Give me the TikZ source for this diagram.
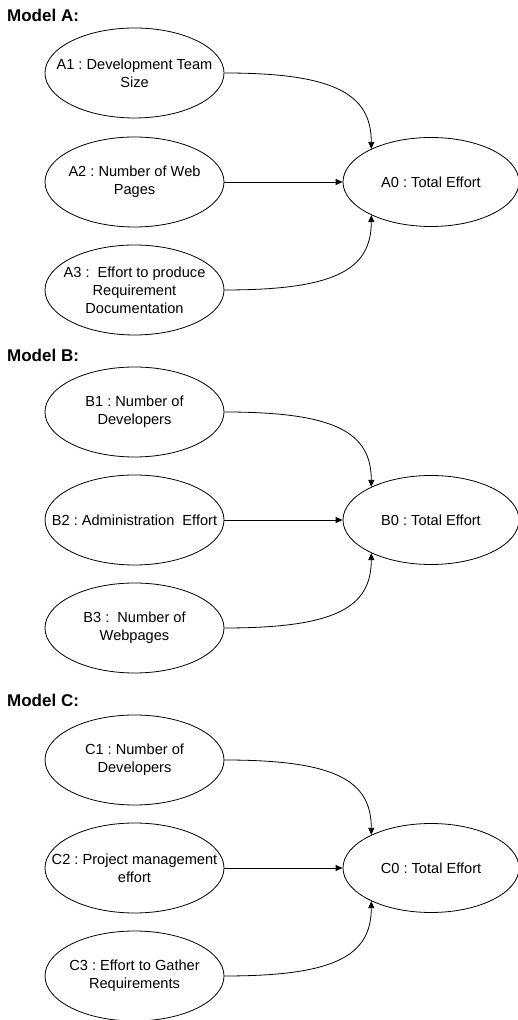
\documentclass[tikz,border=0pt]{standalone}
\usepackage{fontspec}
\setmainfont{Liberation Sans}
\usetikzlibrary{shapes.geometric,arrows.meta}
\frenchspacing
\begin{document}
\begin{tikzpicture}[x=1pt,y=1pt,
  ell/.style={draw,ellipse,line width=0.8pt,inner sep=0pt,minimum width=179pt,minimum height=90pt},
  tot/.style={draw,ellipse,line width=0.8pt,inner sep=0pt,minimum width=176pt,minimum height=89pt},
  lbl/.style={align=center,font=\fontsize{14.6}{18}\selectfont\frenchspacing,inner sep=0pt},
  ttl/.style={anchor=west,font=\fontsize{17}{20}\selectfont\bfseries,inner sep=0pt},
  arr/.style={line width=0.8pt,-{Triangle[length=7pt,width=6pt]}}]
\useasboundingbox (0,0) rectangle (517,1020);
% Model A
\node[ttl] (tA) at (7,1005) {Model A:};
\node[ell,label={[lbl]center:{A1 : Development Team\\Size}}] (A1) at (134.5,947) {};
\node[ell,label={[lbl]center:{A2 : Number of Web\\Pages}}] (A2) at (134.5,838) {};
\node[ell,label={[lbl]center:{A3 :~ Effort to produce\\Requirement\\Documentation}}] (A3) at (134.5,730) {};
\node[tot,label={[lbl]center:{A0 : Total Effort}}] (A0) at (431,838) {};
\draw[arr] (A1.east) .. controls +(110,0) and +(0,55) .. (A0.151);
\draw[arr] (A2.east) -- (A0.west);
\draw[arr] (A3.east) .. controls +(110,0) and +(0,-55) .. (A0.209);
% Model B
\node[ttl] (tB) at (7,665) {Model B:};
\node[ell,label={[lbl]center:{B1 : Number of\\Developers}}] (B1) at (134.5,608) {};
\node[ell,label={[lbl]center:{B2 : Administration~ Effort}}] (B2) at (134.5,500) {};
\node[ell,label={[lbl]center:{B3 :~ Number of\\Webpages}}] (B3) at (134.5,392) {};
\node[tot,label={[lbl]center:{B0 : Total Effort}}] (B0) at (431,500) {};
\draw[arr] (B1.east) .. controls +(110,0) and +(0,55) .. (B0.151);
\draw[arr] (B2.east) -- (B0.west);
\draw[arr] (B3.east) .. controls +(110,0) and +(0,-55) .. (B0.209);
% Model C
\node[ttl] (tC) at (7,320) {Model C:};
\node[ell,label={[lbl]center:{C1 : Number of\\Developers}}] (C1) at (134.5,260) {};
\node[ell,label={[lbl]center:{C2 : Project management\\effort}}] (C2) at (134.5,152) {};
\node[ell,label={[lbl]center:{C3 : Effort to Gather\\Requirements}}] (C3) at (134.5,44) {};
\node[tot,label={[lbl]center:{C0 : Total Effort}}] (C0) at (431,152) {};
\draw[arr] (C1.east) .. controls +(110,0) and +(0,55) .. (C0.151);
\draw[arr] (C2.east) -- (C0.west);
\draw[arr] (C3.east) .. controls +(110,0) and +(0,-55) .. (C0.209);
\end{tikzpicture}
\end{document}
